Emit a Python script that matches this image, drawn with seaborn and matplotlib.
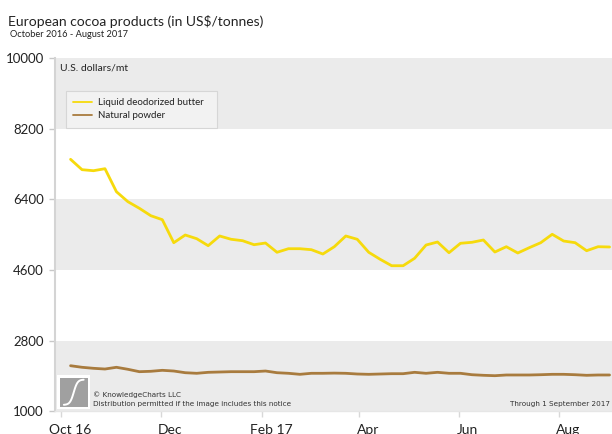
import numpy as np
import pandas as pd
import matplotlib
matplotlib.use("Agg")
import matplotlib.pyplot as plt
import matplotlib.transforms as mtransforms
import seaborn as sns

# ---------------- data ----------------
dates = pd.date_range("2016-10-07", "2017-09-01", freq="7D")
butter = [7418, 7154, 7128, 7179, 6593, 6339, 6171, 5982, 5881, 5295, 5491, 5397,
          5219, 5466, 5382, 5346, 5244, 5287, 5051, 5142, 5142, 5117, 5007, 5193,
          5466, 5382, 5051, 4872, 4709, 4709, 4898, 5236, 5313, 5040, 5280, 5305,
          5364, 5058, 5193, 5033, 5168, 5295, 5509, 5338, 5295, 5091, 5193, 5186]
powder = [2163, 2123, 2097, 2079, 2123, 2072, 2011, 2021, 2046, 2028, 1985, 1970,
          1995, 2003, 2011, 2011, 2011, 2028, 1985, 1970, 1944, 1970, 1970, 1975,
          1970, 1952, 1944, 1952, 1960, 1960, 1995, 1970, 1995, 1970, 1970, 1934,
          1919, 1909, 1927, 1927, 1927, 1934, 1944, 1944, 1934, 1919, 1927, 1927]
series_names = ["Liquid deodorized butter", "Natural powder"]
series_colors = ["#f6da0c", "#a87b3e"]
yticks = [1000, 2800, 4600, 6400, 8200, 10000]
xtick_dates = ["2016-10-01", "2016-12-01", "2017-02-01", "2017-04-01", "2017-06-01", "2017-08-01"]
xtick_labels = ["Oct 16", "Dec", "Feb 17", "Apr", "Jun", "Aug"]

df = pd.DataFrame({
    "date": list(dates) * 2,
    "value": butter + powder,
    "series": [series_names[0]] * len(butter) + [series_names[1]] * len(powder),
})

# ---------------- style ----------------
sns.set_style("white")
plt.rcParams["font.family"] = ["Lato", "DejaVu Sans"]
TXT = "#222222"

W, H = 612, 434
fig = plt.figure(figsize=(W / 100, H / 100), dpi=100)
top_px, bot_px, left_px = 57.9, 411.4, 55
ax = fig.add_axes([left_px / W, 1 - bot_px / H, 1 - left_px / W, (bot_px - top_px) / H])

# alternating bands
for lo, hi in zip(yticks[0::2], yticks[1::2]):
    ax.axhspan(lo, hi, color="#ebebeb", lw=0, zorder=0)

sns.lineplot(data=df, x="date", y="value", hue="series", palette=series_colors,
             linewidth=2.0, ax=ax, zorder=3)

ax.set_ylim(yticks[0], yticks[-1])
ax.set_xlim(pd.Timestamp("2016-09-27 12:00"), pd.Timestamp("2017-09-02 12:00"))
ax.set_yticks(yticks)
ax.set_yticklabels([str(v) for v in yticks])
ax.set_xticks(pd.to_datetime(xtick_dates))
ax.set_xticklabels(xtick_labels)
ax.set_xlabel("")
ax.set_ylabel("")
ax.grid(False)

for s in ["top", "right"]:
    ax.spines[s].set_visible(False)
ax.spines["left"].set_color("#d4d4d4")
ax.spines["left"].set_linewidth(1.5)
ax.spines["bottom"].set_color("#e6e6e6")
ax.spines["bottom"].set_linewidth(1.0)

ax.tick_params(axis="y", direction="out", length=4, width=1, color="#c8c8c8",
               pad=4, labelsize=9.5, labelcolor=TXT, left=True)
ax.tick_params(axis="x", direction="out", length=4, width=1, color="#d8d8d8",
               pad=5, labelsize=10, labelcolor=TXT, bottom=True)
offset = mtransforms.ScaledTranslation(9 / 100, 0, fig.dpi_scale_trans)
for lab in ax.get_xticklabels():
    lab.set_transform(lab.get_transform() + offset)

# legend
leg = ax.legend(loc="upper left",
                bbox_to_anchor=(66 / W, 1 - 126.7 / H, 151 / W, 36 / H),
                bbox_transform=fig.transFigure, mode="expand", borderaxespad=0,
                fontsize=7, handlelength=1.9, handletextpad=0.6, labelspacing=0.45,
                borderpad=0.75, frameon=True, fancybox=False)
leg.get_frame().set_edgecolor("#d0d0d0")
leg.get_frame().set_facecolor("#f4f4f4")
leg.get_frame().set_linewidth(0.8)
for t in leg.get_texts():
    t.set_color(TXT)
for l in leg.get_lines():
    l.set_linewidth(1.3)

# titles and annotations
fig.text(8 / W, 1 - 21 / H, "European cocoa products (in US$/tonnes)", fontsize=10,
         color=TXT, va="center", ha="left")
fig.text(10 / W, 1 - 34.5 / H, "October 2016 - August 2017", fontsize=6.7,
         color=TXT, va="center", ha="left")
fig.text(60 / W, 1 - 68.3 / H, "U.S. dollars/mt", fontsize=7.5,
         color=TXT, va="center", ha="left")

fig.text(93 / W, 1 - 395 / H, "© KnowledgeCharts LLC", fontsize=5.2,
         color="#333333", va="center", ha="left", family="DejaVu Sans")
fig.text(93 / W, 1 - 404 / H, "Distribution permitted if the image includes this notice",
         fontsize=5.2, color="#333333", va="center", ha="left", family="DejaVu Sans")
fig.text(610 / W, 1 - 404 / H, "Through 1 September 2017", fontsize=5.2,
         color="#333333", va="center", ha="right", family="DejaVu Sans")

# logo
lax_out = fig.add_axes([57 / W, 1 - 409 / H, 33 / W, 34 / H])
lax_out.set_facecolor("white")
lax_out.set_xticks([]); lax_out.set_yticks([])
for s in lax_out.spines.values():
    s.set_visible(False)
lax = fig.add_axes([60 / W, 1 - 406.5 / H, 27.5 / W, 28.5 / H])
lax.set_facecolor("#a0a0a0")
lax.set_xticks([]); lax.set_yticks([])
for s in lax.spines.values():
    s.set_visible(False)
tt = np.linspace(-1, 1, 100)
lax.plot(0.5 + 0.36 * tt, 0.5 + 0.44 * np.tanh(2.6 * tt) / np.tanh(2.6), color="white", lw=1.4)
lax.set_xlim(0, 1); lax.set_ylim(0, 1)

fig.savefig("out.png", dpi=100)
